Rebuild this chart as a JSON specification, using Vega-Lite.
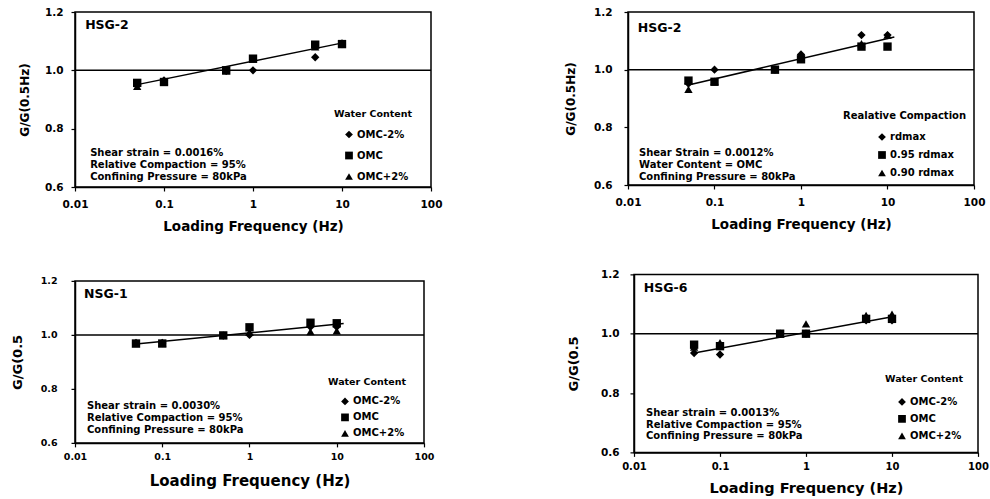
{
  "$schema": "https://vega.github.io/schema/vega-lite/v6.json",
  "background": "white",
  "padding": {"left": 10, "top": 6, "right": 5, "bottom": 5},
  "config": {
    "font": "DejaVu Sans",
    "view": {"stroke": "black", "strokeWidth": 1.5},
    "axis": {
      "grid": false,
      "domainColor": "black",
      "domainWidth": 1.5,
      "tickColor": "black",
      "tickWidth": 1.2,
      "tickSize": 4,
      "labelColor": "black",
      "labelFont": "DejaVu Sans",
      "labelFontWeight": "bold",
      "labelFontSize": 10.5,
      "labelPadding": 7,
      "titleColor": "black",
      "titleFont": "DejaVu Sans",
      "titleFontWeight": "bold",
      "titleFontSize": 13.5,
      "labelFlush": false,
      "labelOverlap": false
    },
    "axisY": {"titleFontSize": 12},
    "legend": {
      "titleFont": "DejaVu Sans",
      "titleFontWeight": "bold",
      "titleFontSize": 9.5,
      "titleColor": "black",
      "labelFont": "DejaVu Sans",
      "labelFontWeight": "bold",
      "labelFontSize": 10,
      "labelColor": "black",
      "symbolSize": 60,
      "symbolStrokeWidth": 0,
      "symbolFillColor": "black",
      "titlePadding": 8,
      "labelOffset": 3,
      "padding": 0
    },
    "text": {"font": "DejaVu Sans", "fontWeight": "bold", "color": "black"}
  },
  "datasets": {
    "p1": [
      {"freq": 0.05, "ratio": 0.950, "series": "OMC-2%"},
      {"freq": 0.1, "ratio": 0.965, "series": "OMC-2%"},
      {"freq": 0.5, "ratio": 0.998, "series": "OMC-2%"},
      {"freq": 1, "ratio": 1.0, "series": "OMC-2%"},
      {"freq": 5, "ratio": 1.045, "series": "OMC-2%"},
      {"freq": 10, "ratio": 1.09, "series": "OMC-2%"},
      {"freq": 0.05, "ratio": 0.957, "series": "OMC"},
      {"freq": 0.1, "ratio": 0.960, "series": "OMC"},
      {"freq": 0.5, "ratio": 1.0, "series": "OMC"},
      {"freq": 1, "ratio": 1.04, "series": "OMC"},
      {"freq": 5, "ratio": 1.088, "series": "OMC"},
      {"freq": 10, "ratio": 1.09, "series": "OMC"},
      {"freq": 0.05, "ratio": 0.945, "series": "OMC+2%"},
      {"freq": 0.1, "ratio": 0.962, "series": "OMC+2%"},
      {"freq": 0.5, "ratio": 0.998, "series": "OMC+2%"},
      {"freq": 1, "ratio": 1.038, "series": "OMC+2%"},
      {"freq": 5, "ratio": 1.08, "series": "OMC+2%"},
      {"freq": 10, "ratio": 1.095, "series": "OMC+2%"}
    ],
    "p2": [
      {"freq": 0.05, "ratio": 0.952, "series": "rdmax"},
      {"freq": 0.1, "ratio": 1.0, "series": "rdmax"},
      {"freq": 0.5, "ratio": 1.0, "series": "rdmax"},
      {"freq": 1, "ratio": 1.053, "series": "rdmax"},
      {"freq": 5, "ratio": 1.12, "series": "rdmax"},
      {"freq": 10, "ratio": 1.12, "series": "rdmax"},
      {"freq": 0.05, "ratio": 0.962, "series": "0.95 rdmax"},
      {"freq": 0.1, "ratio": 0.958, "series": "0.95 rdmax"},
      {"freq": 0.5, "ratio": 1.0, "series": "0.95 rdmax"},
      {"freq": 1, "ratio": 1.036, "series": "0.95 rdmax"},
      {"freq": 5, "ratio": 1.08, "series": "0.95 rdmax"},
      {"freq": 10, "ratio": 1.08, "series": "0.95 rdmax"},
      {"freq": 0.05, "ratio": 0.932, "series": "0.90 rdmax"},
      {"freq": 0.1, "ratio": 0.96, "series": "0.90 rdmax"},
      {"freq": 0.5, "ratio": 1.0, "series": "0.90 rdmax"},
      {"freq": 1, "ratio": 1.045, "series": "0.90 rdmax"},
      {"freq": 5, "ratio": 1.09, "series": "0.90 rdmax"},
      {"freq": 10, "ratio": 1.12, "series": "0.90 rdmax"}
    ],
    "p3": [
      {"freq": 0.05, "ratio": 0.970, "series": "OMC-2%"},
      {"freq": 0.1, "ratio": 0.970, "series": "OMC-2%"},
      {"freq": 0.5, "ratio": 0.997, "series": "OMC-2%"},
      {"freq": 1, "ratio": 1.0, "series": "OMC-2%"},
      {"freq": 5, "ratio": 1.03, "series": "OMC-2%"},
      {"freq": 10, "ratio": 1.03, "series": "OMC-2%"},
      {"freq": 0.05, "ratio": 0.968, "series": "OMC"},
      {"freq": 0.1, "ratio": 0.968, "series": "OMC"},
      {"freq": 0.5, "ratio": 0.998, "series": "OMC"},
      {"freq": 1, "ratio": 1.028, "series": "OMC"},
      {"freq": 5, "ratio": 1.045, "series": "OMC"},
      {"freq": 10, "ratio": 1.043, "series": "OMC"},
      {"freq": 0.05, "ratio": 0.968, "series": "OMC+2%"},
      {"freq": 0.1, "ratio": 0.970, "series": "OMC+2%"},
      {"freq": 0.5, "ratio": 0.998, "series": "OMC+2%"},
      {"freq": 1, "ratio": 1.01, "series": "OMC+2%"},
      {"freq": 5, "ratio": 1.012, "series": "OMC+2%"},
      {"freq": 10, "ratio": 1.015, "series": "OMC+2%"}
    ],
    "p4": [
      {"freq": 0.05, "ratio": 0.935, "series": "OMC-2%"},
      {"freq": 0.1, "ratio": 0.930, "series": "OMC-2%"},
      {"freq": 0.5, "ratio": 1.0, "series": "OMC-2%"},
      {"freq": 1, "ratio": 1.0, "series": "OMC-2%"},
      {"freq": 5, "ratio": 1.045, "series": "OMC-2%"},
      {"freq": 10, "ratio": 1.045, "series": "OMC-2%"},
      {"freq": 0.05, "ratio": 0.963, "series": "OMC"},
      {"freq": 0.1, "ratio": 0.958, "series": "OMC"},
      {"freq": 0.5, "ratio": 1.0, "series": "OMC"},
      {"freq": 1, "ratio": 1.0, "series": "OMC"},
      {"freq": 5, "ratio": 1.05, "series": "OMC"},
      {"freq": 10, "ratio": 1.05, "series": "OMC"},
      {"freq": 0.05, "ratio": 0.955, "series": "OMC+2%"},
      {"freq": 0.1, "ratio": 0.970, "series": "OMC+2%"},
      {"freq": 0.5, "ratio": 1.0, "series": "OMC+2%"},
      {"freq": 1, "ratio": 1.033, "series": "OMC+2%"},
      {"freq": 5, "ratio": 1.062, "series": "OMC+2%"},
      {"freq": 10, "ratio": 1.066, "series": "OMC+2%"}
    ],
    "fit1": [{"freq": 0.05, "ratio": 0.951}, {"freq": 10.5, "ratio": 1.095}],
    "fit2": [{"freq": 0.05, "ratio": 0.947}, {"freq": 12, "ratio": 1.113}],
    "fit3": [{"freq": 0.05, "ratio": 0.966}, {"freq": 12, "ratio": 1.042}],
    "fit4": [{"freq": 0.05, "ratio": 0.935}, {"freq": 10.5, "ratio": 1.058}]
  },
  "resolve": {"scale": {"x": "independent", "y": "independent", "shape": "independent"}, "legend": {"shape": "independent"}},
  "align": "none",
  "spacing": 34,
  "vconcat": [
    {
      "spacing": 120,
      "resolve": {"scale": {"x": "independent", "y": "independent", "shape": "independent"}, "legend": {"shape": "independent"}},
      "hconcat": [
        {
          "width": 356, "height": 175,
          "layer": [
            {"data": {"values": [{}]}, "mark": {"type": "rule", "color": "black", "strokeWidth": 1.5}, "encoding": {"y": {"datum": 1, "type": "quantitative"}}},
            {"data": {"name": "fit1"}, "mark": {"type": "line", "color": "black", "strokeWidth": 1.5}, "encoding": {"x": {"field": "freq", "type": "quantitative"}, "y": {"field": "ratio", "type": "quantitative"}}},
            {"data": {"name": "p1"}, "mark": {"type": "point", "filled": true, "color": "black", "size": 70, "opacity": 1},
             "encoding": {
               "x": {"field": "freq", "type": "quantitative", "scale": {"type": "log", "domain": [0.01, 100], "nice": false}, "axis": {"values": [0.01, 0.1, 1, 10, 100], "format": "~g", "title": "Loading Frequency (Hz)", "titlePadding": 10, "labelPadding": 8}},
               "y": {"field": "ratio", "type": "quantitative", "scale": {"domain": [0.6, 1.2], "nice": false, "zero": false}, "axis": {"values": [0.6, 0.8, 1.0, 1.2], "format": ".1f", "title": "G/G(0.5Hz)", "titlePadding": 13, "labelPadding": 8}},
               "shape": {"field": "series", "type": "nominal", "scale": {"domain": ["OMC-2%", "OMC", "OMC+2%"], "range": ["diamond", "square", "triangle-up"]},
                         "legend": {"orient": "none", "legendX": 259, "legendY": 97, "title": "Water Content", "symbolOffset": 10, "rowPadding": 11, "titlePadding": 11}}
             }},
            {"data": {"values": [{}]}, "mark": {"type": "text", "text": "HSG-2", "fontSize": 12.5, "align": "left", "baseline": "middle"}, "encoding": {"x": {"datum": 0.013}, "y": {"datum": 1.155}}},
            {"data": {"values": [{}]}, "mark": {"type": "text", "text": ["Shear strain = 0.0016%", "Relative Compaction = 95%", "Confining Pressure = 80kPa"], "fontSize": 10, "lineHeight": 12, "align": "left", "baseline": "middle"}, "encoding": {"x": {"datum": 0.0148}, "y": {"datum": 0.717}}}
          ]
        },
        {
          "width": 346, "height": 173,
          "layer": [
            {"data": {"values": [{}]}, "mark": {"type": "rule", "color": "black", "strokeWidth": 1.5}, "encoding": {"y": {"datum": 1, "type": "quantitative"}}},
            {"data": {"name": "fit2"}, "mark": {"type": "line", "color": "black", "strokeWidth": 1.5}, "encoding": {"x": {"field": "freq", "type": "quantitative"}, "y": {"field": "ratio", "type": "quantitative"}}},
            {"data": {"name": "p2"}, "mark": {"type": "point", "filled": true, "color": "black", "size": 70, "opacity": 1},
             "encoding": {
               "x": {"field": "freq", "type": "quantitative", "scale": {"type": "log", "domain": [0.01, 100], "nice": false}, "axis": {"values": [0.01, 0.1, 1, 10, 100], "format": "~g", "title": "Loading Frequency (Hz)", "titlePadding": 10, "labelPadding": 8}},
               "y": {"field": "ratio", "type": "quantitative", "scale": {"domain": [0.6, 1.2], "nice": false, "zero": false}, "axis": {"values": [0.6, 0.8, 1.0, 1.2], "format": ".1f", "title": "G/G(0.5Hz)", "titlePadding": 16, "labelPadding": 12}},
               "shape": {"field": "series", "type": "nominal", "scale": {"domain": ["rdmax", "0.95 rdmax", "0.90 rdmax"], "range": ["diamond", "square", "triangle-up"]},
                         "legend": {"orient": "none", "legendX": 215, "legendY": 99, "title": "Realative Compaction", "titleFontSize": 10, "symbolOffset": 34, "rowPadding": 8, "titlePadding": 11}}
             }},
            {"data": {"values": [{}]}, "mark": {"type": "text", "text": "HSG-2", "fontSize": 12.5, "align": "left", "baseline": "middle"}, "encoding": {"x": {"datum": 0.013}, "y": {"datum": 1.144}}},
            {"data": {"values": [{}]}, "mark": {"type": "text", "text": ["Shear Strain = 0.0012%", "Water Content = OMC", "Confining Pressure = 80kPa"], "fontSize": 10, "lineHeight": 12, "align": "left", "baseline": "middle"}, "encoding": {"x": {"datum": 0.0134}, "y": {"datum": 0.71}}}
          ]
        }
      ]
    },
    {
      "spacing": 131,
      "center": true,
      "resolve": {"scale": {"x": "independent", "y": "independent", "shape": "independent"}, "legend": {"shape": "independent"}},
      "hconcat": [
        {
          "width": 349, "height": 162,
          "layer": [
            {"data": {"values": [{}]}, "mark": {"type": "rule", "color": "black", "strokeWidth": 1.5}, "encoding": {"y": {"datum": 1, "type": "quantitative"}}},
            {"data": {"name": "fit3"}, "mark": {"type": "line", "color": "black", "strokeWidth": 1.5}, "encoding": {"x": {"field": "freq", "type": "quantitative"}, "y": {"field": "ratio", "type": "quantitative"}}},
            {"data": {"name": "p3"}, "mark": {"type": "point", "filled": true, "color": "black", "size": 70, "opacity": 1},
             "encoding": {
               "x": {"field": "freq", "type": "quantitative", "scale": {"type": "log", "domain": [0.01, 100], "nice": false}, "axis": {"values": [0.01, 0.1, 1, 10, 100], "format": "~g", "title": "Loading Frequency (Hz)", "titlePadding": 12, "titleFontSize": 15, "labelFontSize": 9.5, "labelPadding": 5}},
               "y": {"field": "ratio", "type": "quantitative", "scale": {"domain": [0.6, 1.2], "nice": false, "zero": false}, "axis": {"values": [0.6, 0.8, 1.0, 1.2], "format": ".1f", "title": "G/G(0.5", "titleFontSize": 13, "titlePadding": 16, "labelPadding": 14, "labelFontSize": 9.5}},
               "shape": {"field": "series", "type": "nominal", "scale": {"domain": ["OMC-2%", "OMC", "OMC+2%"], "range": ["diamond", "square", "triangle-up"]},
                         "legend": {"orient": "none", "legendX": 253, "legendY": 96, "title": "Water Content", "symbolOffset": 12, "rowPadding": 6, "titlePadding": 10}}
             }},
            {"data": {"values": [{}]}, "mark": {"type": "text", "text": "NSG-1", "fontSize": 12.5, "align": "left", "baseline": "middle"}, "encoding": {"x": {"datum": 0.0127}, "y": {"datum": 1.152}}},
            {"data": {"values": [{}]}, "mark": {"type": "text", "text": ["Shear strain = 0.0030%", "Relative Compaction = 95%", "Confining Pressure = 80kPa"], "fontSize": 10, "lineHeight": 12, "align": "left", "baseline": "middle"}, "encoding": {"x": {"datum": 0.0137}, "y": {"datum": 0.737}}}
          ]
        },
        {
          "width": 344, "height": 178,
          "layer": [
            {"data": {"values": [{}]}, "mark": {"type": "rule", "color": "black", "strokeWidth": 1.5}, "encoding": {"y": {"datum": 1, "type": "quantitative"}}},
            {"data": {"name": "fit4"}, "mark": {"type": "line", "color": "black", "strokeWidth": 1.5}, "encoding": {"x": {"field": "freq", "type": "quantitative"}, "y": {"field": "ratio", "type": "quantitative"}}},
            {"data": {"name": "p4"}, "mark": {"type": "point", "filled": true, "color": "black", "size": 70, "opacity": 1},
             "encoding": {
               "x": {"field": "freq", "type": "quantitative", "scale": {"type": "log", "domain": [0.01, 100], "nice": false}, "axis": {"values": [0.01, 0.1, 1, 10, 100], "format": "~g", "title": "Loading Frequency (Hz)", "titlePadding": 10, "titleFontSize": 14.5, "labelFontSize": 10, "labelPadding": 5}},
               "y": {"field": "ratio", "type": "quantitative", "scale": {"domain": [0.6, 1.2], "nice": false, "zero": false}, "axis": {"values": [0.6, 0.8, 1.0, 1.2], "format": ".1f", "title": "G/G(0.5", "titleFontSize": 13, "titlePadding": 20, "labelPadding": 11}},
               "shape": {"field": "series", "type": "nominal", "scale": {"domain": ["OMC-2%", "OMC", "OMC+2%"], "range": ["diamond", "square", "triangle-up"]},
                         "legend": {"orient": "none", "legendX": 251, "legendY": 100, "title": "Water Content", "symbolOffset": 12, "rowPadding": 7, "titlePadding": 13}}
             }},
            {"data": {"values": [{}]}, "mark": {"type": "text", "text": "HSG-6", "fontSize": 12.5, "align": "left", "baseline": "middle"}, "encoding": {"x": {"datum": 0.013}, "y": {"datum": 1.153}}},
            {"data": {"values": [{}]}, "mark": {"type": "text", "text": ["Shear strain = 0.0013%", "Relative Compaction = 95%", "Confining Pressure = 80kPa"], "fontSize": 10, "lineHeight": 11.5, "align": "left", "baseline": "middle"}, "encoding": {"x": {"datum": 0.0138}, "y": {"datum": 0.732}}}
          ]
        }
      ]
    }
  ]
}
